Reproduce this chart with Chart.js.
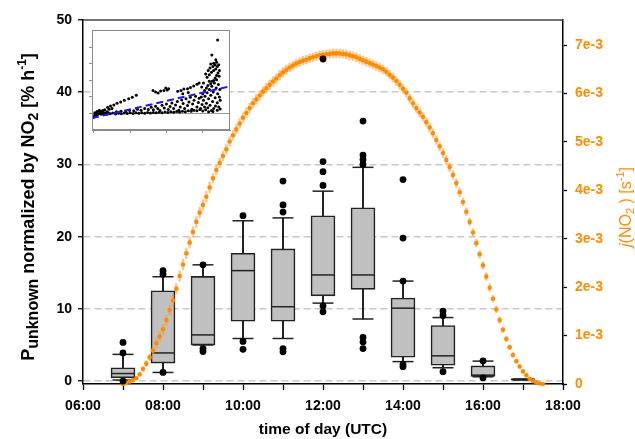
<!DOCTYPE html>
<html>
<head>
<meta charset="utf-8">
<script src="https://cdn.jsdelivr.net/npm/chart.js@4.4.1/dist/chart.umd.min.js"></script>
<style>
  html, body { margin: 0; padding: 0; background: #fff; }
  #wrap { position: relative; width: 635px; height: 439px; }
  #main { position: absolute; left: 0; top: 0; }
  #inset { position: absolute; left: 86px; top: 26px; }
</style>
</head>
<body>
<div id="wrap">
  <canvas id="main" width="635" height="439"></canvas>
  <canvas id="inset" width="148" height="110"></canvas>
</div>
<script>
// ---- hourly box statistics of P_unknown / NO2 [% h-1] ----
const boxHours    = [7, 8, 9, 10, 11, 12, 13, 14, 15, 16, 17];
const whiskerLow  = [0.15, 1.2, 5.0, 5.9, 5.9, 10.8, 8.6, 2.7, 1.85, 0.6, 0.15];
const quartile1   = [0.45, 2.5, 5.0, 8.3, 8.3, 11.8, 12.7, 3.3, 2.2, 0.65, 0.15];
const medians     = [1.05, 3.9, 6.4, 15.3, 10.3, 14.7, 14.7, 10.1, 3.5, 0.83, 0.22];
const quartile3   = [1.85, 12.5, 14.5, 17.7, 18.3, 22.9, 24.0, 11.5, 7.7, 2.1, 0.3];
const whiskerHigh = [3.7, 14.45, 16.1, 22.2, 22.6, 26.3, 29.6, 13.85, 8.8, 2.77, 0.3];

// outliers (hour, value)
const outlierHours  = [7, 7, 7, 8, 8, 8, 9, 9, 9, 10, 10, 10, 11, 11, 11, 11, 11,
                       12, 12, 12, 12, 12, 12, 13, 13, 13, 13, 13, 13, 13,
                       14, 14, 14, 14, 14, 15, 15, 15, 16, 16];
const outlierValues = [5.36, 3.9, 0.0, 15.3, 14.8, 1.2, 16.1, 4.5, 4.1, 22.9, 5.5, 4.4,
                       27.7, 24.4, 23.4, 4.5, 4.06,
                       44.6, 30.4, 29.0, 27.1, 10.4, 9.6,
                       36.0, 31.3, 30.7, 30.0, 6.05, 5.4, 4.5,
                       27.9, 19.8, 13.85, 2.3, 2.0, 9.7, 9.1, 1.3, 2.8, 0.46];

// ---- j(NO2) photolysis frequency, 5-minute means from 07:00 UTC, in units of 1e-3 s-1 ----
const jStartHour = 7;
const jStepMinutes = 5;
const jNO2 = [
  0.00, 0.02, 0.05, 0.08, 0.12, 0.20, 0.31, 0.42, 0.55, 0.69,
  0.84, 0.98, 1.13, 1.32, 1.53, 1.73, 1.97, 2.23, 2.47, 2.70,
  2.92, 3.14, 3.35, 3.54, 3.70, 3.87, 4.06, 4.25, 4.42, 4.57,
  4.71, 4.85, 5.01, 5.14, 5.26, 5.38, 5.50, 5.60, 5.70, 5.80,
  5.88, 5.96, 6.04, 6.11, 6.18, 6.25, 6.31, 6.38, 6.44, 6.49,
  6.54, 6.58, 6.62, 6.65, 6.68, 6.70, 6.73, 6.75, 6.77, 6.79,
  6.80, 6.81, 6.82, 6.83, 6.83, 6.83, 6.82, 6.81, 6.79, 6.77,
  6.75, 6.72, 6.69, 6.66, 6.63, 6.60, 6.57, 6.54, 6.50, 6.45,
  6.39, 6.33, 6.26, 6.18, 6.10, 6.02, 5.90, 5.80, 5.70, 5.61,
  5.52, 5.41, 5.30, 5.18, 5.04, 4.91, 4.77, 4.63, 4.48, 4.32,
  4.15, 3.96, 3.76, 3.56, 3.35, 3.13, 2.91, 2.68, 2.45, 2.22,
  1.99, 1.76, 1.54, 1.32, 1.12, 0.93, 0.76, 0.60, 0.47, 0.36,
  0.26, 0.18, 0.11, 0.06, 0.03, 0.01, 0.00
];
const jNO2Err = [
  0.01, 0.01, 0.02, 0.02, 0.03, 0.04, 0.05, 0.06, 0.07, 0.08,
  0.09, 0.09, 0.10, 0.10, 0.10, 0.11, 0.11, 0.11, 0.11, 0.11,
  0.11, 0.11, 0.11, 0.11, 0.11, 0.11, 0.11, 0.10, 0.10, 0.10,
  0.10, 0.10, 0.10, 0.10, 0.10, 0.10, 0.10, 0.10, 0.10, 0.10,
  0.10, 0.10, 0.10, 0.10, 0.10, 0.10, 0.10, 0.10, 0.10, 0.10,
  0.09, 0.09, 0.09, 0.09, 0.09, 0.09, 0.09, 0.09, 0.09, 0.09,
  0.09, 0.09, 0.09, 0.09, 0.09, 0.09, 0.09, 0.09, 0.09, 0.09,
  0.09, 0.09, 0.09, 0.09, 0.09, 0.09, 0.09, 0.09, 0.09, 0.09,
  0.09, 0.09, 0.09, 0.09, 0.09, 0.09, 0.09, 0.09, 0.09, 0.09,
  0.09, 0.09, 0.09, 0.09, 0.09, 0.09, 0.09, 0.09, 0.09, 0.09,
  0.09, 0.09, 0.08, 0.08, 0.08, 0.08, 0.08, 0.08, 0.08, 0.08,
  0.08, 0.07, 0.07, 0.07, 0.06, 0.06, 0.05, 0.05, 0.04, 0.04,
  0.03, 0.03, 0.02, 0.02, 0.01, 0.01, 0.00
];

// ---- axis ticks ----
const hourTicks = [6, 7, 8, 9, 10, 11, 12, 13, 14, 15, 16, 17, 18];
const timeLabelHours = [6, 8, 10, 12, 14, 16, 18];
const timeLabels = ['06:00', '08:00', '10:00', '12:00', '14:00', '16:00', '18:00'];
const leftTicks = [0, 10, 20, 30, 40, 50];
const jTicks = [0, 1, 2, 3, 4, 5, 6, 7];
const jTickLabels = ['0', '1e-3', '2e-3', '3e-3', '4e-3', '5e-3', '6e-3', '7e-3'];

// ---- inset: scatter of individual values with linear fit ----
const insetPoints = [
  [0.00,-0.22],[0.02,-0.12],[0.04,-0.05],[0.06,-0.15],[0.08,0.02],[0.10,-0.08],[0.12,0.06],[0.14,-0.02],
  [0.16,0.10],[0.18,0.00],[0.20,0.14],[0.22,0.04],[0.25,0.18],[0.27,0.06],[0.30,0.22],[0.33,0.02],
  [0.36,0.10],[0.40,0.05],[0.03,0.05],[0.09,0.12],[0.15,0.20],[0.21,-0.05],[0.28,-0.02],[0.35,-0.04],
  [0.38,0.38],[0.46,0.46],[0.55,0.52],[0.64,0.62],[0.74,0.70],[0.84,0.80],[0.96,0.90],[1.06,0.98],
  [1.17,1.10],[0.50,0.30],[0.42,0.25],
  [1.63,1.40],[1.70,1.30],[1.77,1.24],[1.84,1.36],[1.93,1.40],[2.02,1.42],[2.06,1.50],[1.98,1.55],
  [0.45,-0.02],[0.52,0.03],[0.60,-0.03],[0.68,0.02],[0.76,-0.02],[0.84,0.03],[0.92,0.00],[1.00,0.04],
  [1.08,0.00],[1.16,0.04],[1.24,0.01],[1.32,0.05],[1.40,0.02],[1.48,0.06],[1.56,0.03],[1.64,0.06],
  [1.72,0.04],[1.80,0.08],[1.88,0.05],[1.96,0.09],[2.04,0.06],[2.12,0.10],[2.20,0.07],[2.28,0.12],
  [2.36,0.09],[2.44,0.14],[2.52,0.11],[2.60,0.16],[2.68,0.13],[2.76,0.19],[2.84,0.16],[2.92,0.24],
  [0.62,0.10],[0.75,0.14],[0.88,0.12],[0.98,0.20],[1.10,0.16],[1.20,0.26],[1.30,0.20],[1.40,0.30],
  [1.50,0.24],[1.58,0.38],[1.64,0.22],[1.70,0.44],[1.76,0.30],[1.82,0.18],[1.88,0.50],[1.94,0.34],
  [2.00,0.58],[2.05,0.24],[2.10,0.42],[2.15,0.64],[2.20,0.30],[2.25,0.52],[2.30,0.72],[2.34,0.20],
  [2.38,0.40],[2.42,0.82],[2.46,0.60],[2.50,0.30],[2.54,0.90],[2.58,0.48],[2.62,0.70],[2.66,0.98],
  [2.70,0.25],[2.72,0.58],[2.76,0.80],[2.80,1.05],[2.84,0.40],[2.88,0.66],[2.90,0.92],
  [2.31,1.35],[2.40,1.40],[2.48,1.48],[2.58,1.50],[2.66,1.58],[2.75,1.66],[2.84,1.78],[2.90,1.85],
  [2.45,1.20],[2.60,1.28],
  [2.94,0.30],[2.98,0.55],[3.00,0.15],[3.02,0.80],[3.05,0.40],[3.06,1.05],[3.08,0.22],[3.10,0.62],
  [3.12,1.25],[3.14,0.35],[3.16,0.90],[3.18,1.45],[3.20,0.50],[3.22,1.10],[3.24,0.18],[3.25,1.65],
  [3.27,0.72],[3.29,1.30],[3.30,0.30],[3.32,1.85],[3.34,0.95],[3.35,0.45],[3.37,1.55],[3.38,2.05],
  [3.40,0.65],[3.41,1.20],[3.43,1.75],[3.44,0.40],[3.45,2.25],[3.46,1.00],[3.47,1.45],[3.48,0.80],
  [3.46,2.60],[3.42,2.45],[3.38,2.30],[3.34,2.15],[3.30,2.00],[3.26,1.95],[3.22,1.80],[3.18,1.95],
  [3.14,1.70],[3.10,1.55],[3.05,1.40],[3.00,1.20],[2.96,1.00],[3.12,2.20],[3.18,2.35],[3.24,2.50],
  [3.30,2.60],[3.36,2.70],[3.40,2.85],[3.44,2.95],[3.28,2.85],[3.20,2.75],[3.15,2.60],[3.22,3.00],
  [3.30,3.05],[3.38,3.10],[3.34,2.95],[3.25,3.55],[3.41,4.46],[3.36,3.25],[3.08,2.40],[3.02,1.85],
  [2.97,1.60],[3.16,0.10],[3.28,0.12],[3.40,0.20],[3.48,0.28]
];
const fitLineX = [-0.05, 3.75];
const fitLineY = [-0.28, 1.65];
const insetYTicks = [0, 1, 2, 3, 4];
const insetXTicks = [0, 1, 2, 3];

// ---- styling ----
const ORANGE = '#ff8c00';
const FONT = "'Liberation Sans', Arial, sans-serif";
Chart.defaults.font.family = FONT;
Chart.defaults.color = '#000';

// draws a run of text pieces (sub/superscripts) rotated about a centre point
function drawRichText(ctx, parts, cx, cy, angle, color) {
  ctx.save();
  ctx.translate(cx, cy);
  ctx.rotate(angle);
  ctx.fillStyle = color;
  ctx.textBaseline = 'alphabetic';
  ctx.textAlign = 'left';
  let total = 0;
  parts.forEach(p => { ctx.font = p.font; p.w = ctx.measureText(p.text).width; total += p.w; });
  let x = -total / 2;
  parts.forEach(p => { ctx.font = p.font; ctx.fillText(p.text, x, p.dy || 0); x += p.w; });
  ctx.restore();
}

const titlesPlugin = {
  id: 'titles',
  beforeDatasetsDraw(chart) {
    const { ctx, chartArea } = chart;
    // top frame line of the plot box
    ctx.save();
    ctx.strokeStyle = '#444';
    ctx.lineWidth = 1.3;
    ctx.beginPath();
    ctx.moveTo(chartArea.left, chartArea.top);
    ctx.lineTo(chartArea.right, chartArea.top);
    ctx.stroke();
    ctx.restore();
  },
  afterDraw(chart) {
    const { ctx, chartArea } = chart;
    const b = (s) => `bold ${s}px ${FONT}`;
    const n = (s) => `${s}px ${FONT}`;
    const midY = (chartArea.top + chartArea.bottom) / 2;
    drawRichText(ctx, [
      { text: 'P', font: b(18) },
      { text: 'unknown', font: b(16), dy: 4 },
      { text: ' normalized by NO', font: b(18) },
      { text: '2', font: b(14), dy: 4 },
      { text: ' [% h', font: b(18) },
      { text: '-1', font: b(12), dy: -8 },
      { text: ']', font: b(18) }
    ], 34, midY + 5, -Math.PI / 2, '#000');
    drawRichText(ctx, [
      { text: 'j', font: `italic ${n(16)}` },
      { text: '(NO', font: n(16) },
      { text: '2', font: n(11), dy: 3 },
      { text: ' ) [s', font: n(16) },
      { text: '-1', font: n(11), dy: -7 },
      { text: ']', font: n(16) }
    ], 631, midY + 5, -Math.PI / 2, ORANGE);
    ctx.save();
    ctx.font = b(15.5);
    ctx.fillStyle = '#000';
    ctx.textAlign = 'center';
    ctx.textBaseline = 'alphabetic';
    ctx.fillText('time of day (UTC)', (chartArea.left + chartArea.right) / 2, 434);
    ctx.restore();
  }
};

const jTime = (i) => jStartHour + (i * jStepMinutes) / 60;
const boxData = boxHours.map((h, i) => ({ x: h, y: [quartile1[i], quartile3[i]] }));
const whiskerData = boxHours.map((h, i) => ({ x: h, y: [whiskerLow[i], whiskerHigh[i]] }));
const capData = boxHours.flatMap((h, i) => [{ x: h, y: whiskerLow[i] }, { x: h, y: whiskerHigh[i] }]);
const medianData = boxHours.map((h, i) => ({ x: h, y: medians[i] }));
const outlierData = outlierHours.map((h, i) => ({ x: h, y: outlierValues[i] }));
const jData = jNO2.map((v, i) => ({ x: jTime(i), y: v }));
const jErrData = jNO2.map((v, i) => ({ x: jTime(i), y: [v - jNO2Err[i], v + jNO2Err[i]] }));

new Chart(document.getElementById('main'), {
  type: 'scatter',
  data: {
    datasets: [
      { type: 'bar', label: 'whiskers', data: whiskerData, yAxisID: 'y', grouped: false,
        barThickness: 1.4, backgroundColor: '#222', order: 6 },
      { type: 'bar', label: 'boxes', data: boxData, yAxisID: 'y', grouped: false,
        barThickness: 24, backgroundColor: '#c0c0c0', borderColor: '#222', borderWidth: 1.6,
        borderSkipped: false, order: 5 },
      { label: 'caps', data: capData, yAxisID: 'y', pointStyle: 'line', pointRadius: 10.5,
        borderColor: '#222', borderWidth: 1.5, order: 4 },
      { label: 'medians', data: medianData, yAxisID: 'y', pointStyle: 'line', pointRadius: 12,
        borderColor: '#222', borderWidth: 1.5, order: 3 },
      { type: 'bar', label: 'j(NO2) error', data: jErrData, yAxisID: 'y1', grouped: false,
        barThickness: 1.8, backgroundColor: 'rgba(255,150,40,0.55)', order: 2, clip: 6 },
      { label: 'j(NO2)', data: jData, yAxisID: 'y1', pointRadius: 2.3, pointBackgroundColor: ORANGE,
        pointBorderWidth: 0, order: 1, clip: 6 },
      { label: 'outliers', data: outlierData, yAxisID: 'y', pointRadius: 3.4, pointBackgroundColor: '#000',
        pointBorderWidth: 0, order: 0, clip: 6 }
    ]
  },
  options: {
    responsive: false,
    animation: false,
    devicePixelRatio: 1,
    layout: { padding: { top: 20, left: 0, right: 0, bottom: 0 } },
    plugins: { legend: { display: false }, tooltip: { enabled: false } },
    scales: {
      x: {
        type: 'linear', position: 'bottom', min: 6, max: 18, offset: false,
        afterFit: (s) => { s.height = 55; },
        afterBuildTicks: (s) => { s.ticks = hourTicks.map(v => ({ value: v })); },
        grid: { drawOnChartArea: false, offset: false, tickLength: 6, tickColor: '#000', tickWidth: 1.3 },
        border: { color: '#000', width: 1.5 },
        ticks: {
          autoSkip: false, maxRotation: 0, padding: 8,
          font: { size: 14, weight: 'bold' }, color: '#000',
          callback: (v) => { const k = timeLabelHours.indexOf(v); return k >= 0 ? timeLabels[k] : ''; }
        }
      },
      y: {
        type: 'linear', position: 'left', min: -0.4, max: 50,
        afterFit: (s) => { s.width = 83; },
        afterBuildTicks: (s) => { s.ticks = leftTicks.map(v => ({ value: v })); },
        grid: {
          color: (c) => (c.tick && c.tick.value === 50) ? 'rgba(0,0,0,0)' : '#c8c8c8',
          lineWidth: 1.5, tickLength: 5, tickColor: '#000', tickWidth: 1.3
        },
        border: { color: '#000', width: 1.5, dash: [7, 4] },
        ticks: { padding: 6, font: { size: 14, weight: 'bold' }, color: '#000',
                 callback: (v) => String(v) }
      },
      y1: {
        type: 'linear', position: 'right', min: 0, max: 7.52,
        afterFit: (s) => { s.width = 72; },
        afterBuildTicks: (s) => { s.ticks = jTicks.map(v => ({ value: v })); },
        grid: { drawOnChartArea: false, tickLength: 4, tickColor: '#000', tickWidth: 1.3 },
        border: { color: '#000', width: 1.5 },
        ticks: { padding: 8, font: { size: 14, weight: 'bold' }, color: ORANGE,
                 callback: (v) => { const k = jTicks.indexOf(v); return k >= 0 ? jTickLabels[k] : ''; } }
      }
    }
  },
  plugins: [titlesPlugin]
});

// inset frame and white background
const insetFrame = {
  id: 'insetFrame',
  beforeDraw(chart) {
    const { ctx, chartArea: a } = chart;
    ctx.save();
    ctx.fillStyle = '#fff';
    ctx.fillRect(a.left, a.top, a.right - a.left, a.bottom - a.top);
    ctx.restore();
  },
  afterDraw(chart) {
    const { ctx, chartArea: a } = chart;
    ctx.save();
    ctx.strokeStyle = '#8a8a8a';
    ctx.lineWidth = 1;
    ctx.strokeRect(a.left + 0.5, a.top + 0.5, a.right - a.left - 1, a.bottom - a.top - 1);
    ctx.restore();
  }
};

new Chart(document.getElementById('inset'), {
  type: 'scatter',
  data: {
    datasets: [
      { label: 'fit', type: 'line', data: fitLineX.map((x, i) => ({ x, y: fitLineY[i] })),
        borderColor: '#1a1aee', borderWidth: 2, borderDash: [7, 4], pointRadius: 0, order: 0 },
      { label: 'values', data: insetPoints.map(p => ({ x: p[0], y: p[1] })),
        pointRadius: 1.5, pointBackgroundColor: '#000', pointBorderWidth: 0, order: 1 }
    ]
  },
  options: {
    responsive: false,
    animation: false,
    devicePixelRatio: 1,
    layout: { padding: { top: 3, right: 3, left: 0, bottom: 0 } },
    plugins: { legend: { display: false }, tooltip: { enabled: false } },
    scales: {
      x: {
        type: 'linear', min: -0.05, max: 3.75,
        afterFit: (s) => { s.height = 6; },
        afterBuildTicks: (s) => { s.ticks = insetXTicks.map(v => ({ value: v })); },
        grid: { drawOnChartArea: false, tickLength: 3, tickColor: '#8a8a8a', tickWidth: 1 },
        border: { color: '#8a8a8a', width: 1 },
        ticks: { display: false }
      },
      y: {
        type: 'linear', min: -1.0, max: 5.06,
        afterFit: (s) => { s.width = 6; },
        afterBuildTicks: (s) => { s.ticks = insetYTicks.map(v => ({ value: v })); },
        grid: {
          color: (c) => (c.tick && c.tick.value === 0) ? '#9a9a9a' : 'rgba(0,0,0,0)',
          lineWidth: 1, tickLength: 3, tickColor: '#8a8a8a', tickWidth: 1
        },
        border: { color: '#8a8a8a', width: 1 },
        ticks: { display: false }
      }
    }
  },
  plugins: [insetFrame]
});
</script>
</body>
</html>
